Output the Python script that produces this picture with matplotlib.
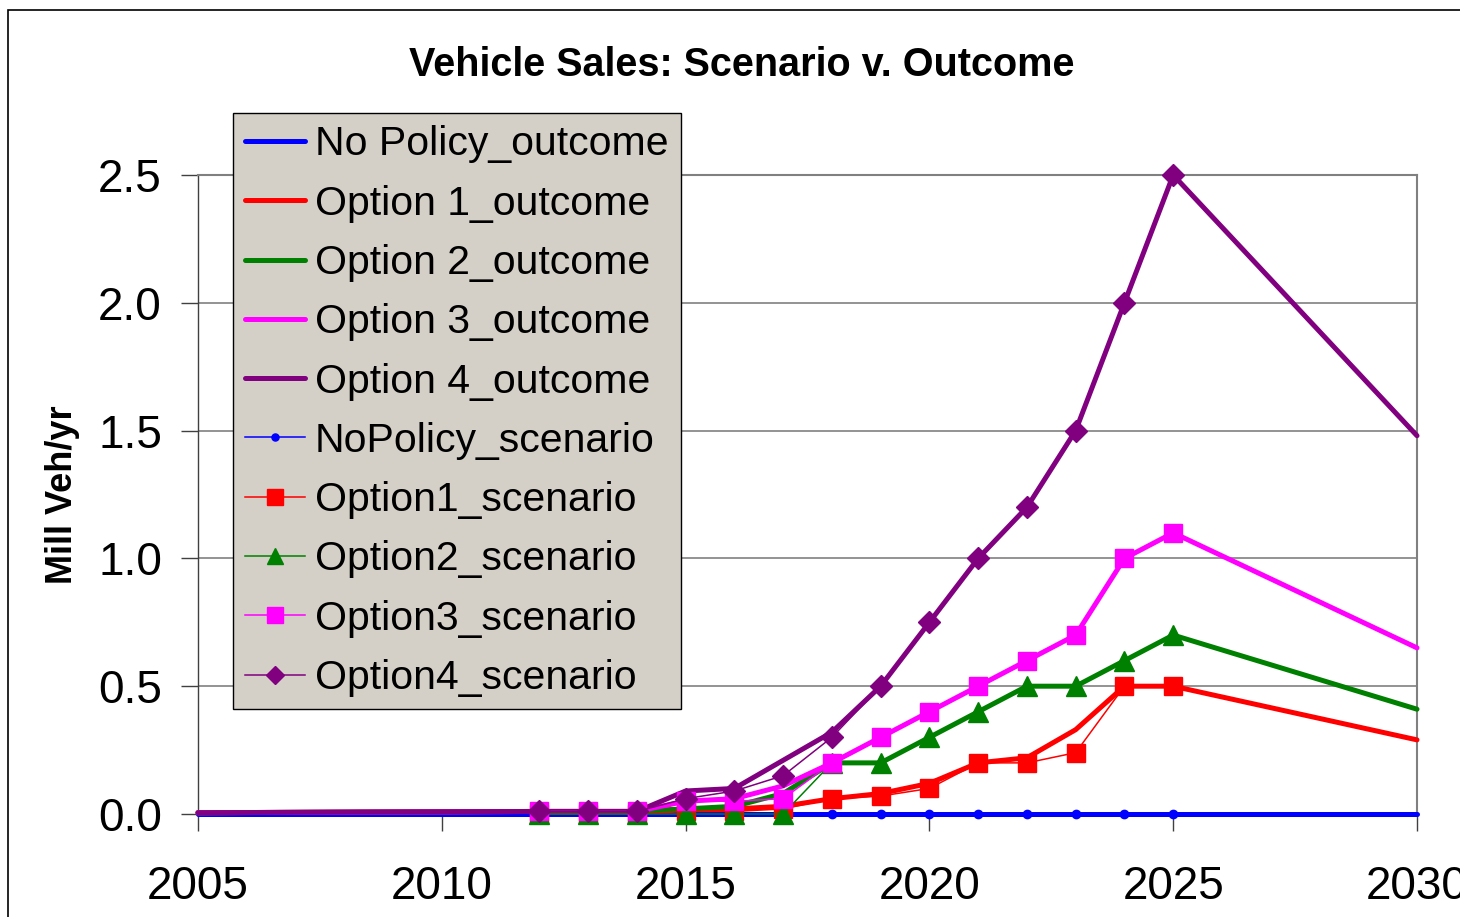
#!/usr/bin/env python3
"""Vehicle Sales: Scenario v. Outcome - Excel 风格折线图"""
import matplotlib
matplotlib.use('Agg')
import matplotlib.pyplot as plt
from matplotlib.patches import Rectangle

plt.rcParams['font.family'] = ['Liberation Sans', 'DejaVu Sans']

# 数据
YEARS_OUT = [2005, 2012, 2013, 2014, 2015, 2016, 2017, 2018, 2019, 2020,
             2021, 2022, 2023, 2024, 2025, 2030]
NOPOLICY_OUT = [0.0, 0.0, 0.0, 0.0, 0.0, 0.0, 0.0, 0.0, 0.0, 0.0,
                0.0, 0.0, 0.0, 0.0, 0.0, 0.0]
OPT1_OUT = [0.005, 0.01, 0.01, 0.01, 0.02, 0.02, 0.03, 0.06, 0.08, 0.12,
            0.20, 0.22, 0.33, 0.50, 0.50, 0.29]
OPT2_OUT = [0.005, 0.01, 0.01, 0.01, 0.02, 0.03, 0.08, 0.20, 0.20, 0.30,
            0.40, 0.50, 0.50, 0.60, 0.70, 0.41]
OPT3_OUT = [0.005, 0.01, 0.01, 0.01, 0.05, 0.06, 0.11, 0.20, 0.30, 0.40,
            0.50, 0.60, 0.70, 1.00, 1.10, 0.65]
OPT4_OUT = [0.005, 0.01, 0.01, 0.01, 0.09, 0.10, 0.21, 0.32, 0.50, 0.75,
            1.00, 1.20, 1.50, 2.00, 2.50, 1.48]

YEARS_SC = [2012, 2013, 2014, 2015, 2016, 2017, 2018, 2019, 2020, 2021,
            2022, 2023, 2024, 2025]
NOPOLICY_SC = [0.0, 0.0, 0.0, 0.0, 0.0, 0.0, 0.0, 0.0, 0.0, 0.0,
               0.0, 0.0, 0.0, 0.0]
OPT1_SC = [0.0, 0.0, 0.0, 0.01, 0.01, 0.02, 0.06, 0.07, 0.10, 0.20,
           0.20, 0.24, 0.50, 0.50]
OPT2_SC = [0.0, 0.0, 0.0, 0.0, 0.0, 0.0, 0.20, 0.20, 0.30, 0.40,
           0.50, 0.50, 0.60, 0.70]
OPT3_SC = [0.01, 0.01, 0.01, 0.05, 0.05, 0.06, 0.20, 0.30, 0.40, 0.50,
           0.60, 0.70, 1.00, 1.10]
OPT4_SC = [0.01, 0.01, 0.01, 0.06, 0.09, 0.15, 0.30, 0.50, 0.75, 1.00,
           1.20, 1.50, 2.00, 2.50]

OUTCOMES = [
    ("No Policy_outcome", NOPOLICY_OUT, "#0000ff"),
    ("Option 1_outcome", OPT1_OUT, "#ff0000"),
    ("Option 2_outcome", OPT2_OUT, "#008000"),
    ("Option 3_outcome", OPT3_OUT, "#ff00ff"),
    ("Option 4_outcome", OPT4_OUT, "#800080"),
]
SCENARIOS = [
    ("NoPolicy_scenario", NOPOLICY_SC, "#0000ff", "o", 6),
    ("Option1_scenario", OPT1_SC, "#ff0000", "s", 13),
    ("Option2_scenario", OPT2_SC, "#008000", "^", 14),
    ("Option3_scenario", OPT3_SC, "#ff00ff", "s", 13),
    ("Option4_scenario", OPT4_SC, "#800080", "D", 11),
]

fig = plt.figure(figsize=(14.6, 9.17), dpi=100)
fig.patch.set_facecolor("white")
ax = fig.add_axes([198 / 1460, 1 - 814 / 917, (1417 - 198) / 1460, (814 - 175) / 917])

# 外框
fig.patches.append(Rectangle((8 / 1460, -0.1), 1.2, 1 - 10 / 917 + 0.1,
                             transform=fig.transFigure, fill=False,
                             edgecolor="black", linewidth=1.2))

for label, vals, color in OUTCOMES:
    ax.plot(YEARS_OUT, vals, color=color, linewidth=3.6, label=label,
            clip_on=False, zorder=3, solid_capstyle="round")

for label, vals, color, mk, ms in SCENARIOS:
    ax.plot(YEARS_SC, vals, color=color, linewidth=1.1, marker=mk,
            markersize=ms, markerfacecolor=color, markeredgecolor=color,
            label=label, clip_on=False, zorder=4)

ax.set_xlim(2005, 2030)
ax.set_ylim(0, 2.5)
ax.set_xticks([2005, 2010, 2015, 2020, 2025, 2030])
ax.set_yticks([0.0, 0.5, 1.0, 1.5, 2.0, 2.5])
ax.set_yticklabels(["0.0", "0.5", "1.0", "1.5", "2.0", "2.5"])
ax.tick_params(axis="both", labelsize=33, direction="out", length=12,
               width=1, color="#404040")
ax.tick_params(axis="x", pad=25)
ax.tick_params(axis="y", pad=14)
ax.grid(axis="y", color="#808080", linewidth=1.2, zorder=0)
ax.set_axisbelow(True)
for side in ("top", "right"):
    ax.spines[side].set_color("#808080")
    ax.spines[side].set_linewidth(1.5)
for side in ("left", "bottom"):
    ax.spines[side].set_color("#404040")
    ax.spines[side].set_linewidth(1.0)

ax.set_ylabel("Mill Veh/yr", fontsize=26, fontweight="bold", labelpad=13)
fig.text(742 / 1460, 1 - 65 / 917, "Vehicle Sales: Scenario v. Outcome",
         ha="center", va="center", fontsize=28.5, fontweight="bold")

leg = ax.legend(loc="upper left", bbox_to_anchor=(233 / 1460, 1 - 113 / 917),
                bbox_transform=fig.transFigure, fontsize=29.5, frameon=True,
                fancybox=False, borderaxespad=0, borderpad=0.3,
                handlelength=1.45, handletextpad=0.25, labelspacing=0.52,
                markerscale=0.85)
leg.get_frame().set_facecolor("#d4d0c8")
leg.get_frame().set_edgecolor("black")
leg.get_frame().set_alpha(1)
leg.get_frame().set_linewidth(1.0)
leg.set_zorder(10)

plt.savefig("out.png", dpi=100, facecolor=fig.get_facecolor())
plt.close()
